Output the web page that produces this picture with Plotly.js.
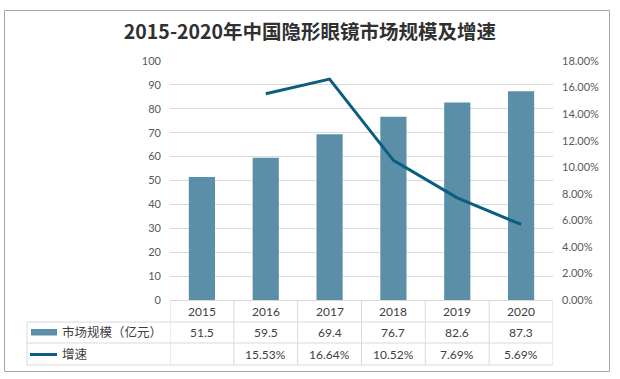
<!DOCTYPE html>
<html>
<head>
<meta charset="utf-8">
<script src="https://cdn.plot.ly/plotly-3.0.1.min.js"></script>
<style>html,body{margin:0;padding:0;background:#fff;}#chart{width:620px;height:379px;}</style>
</head>
<body>
<div id="chart"></div>
<script>
const years = ['2015', '2016', '2017', '2018', '2019', '2020'];
const marketSize = [51.5, 59.5, 69.4, 76.7, 82.6, 87.3];
const growth = [null, 0.1553, 0.1664, 0.1052, 0.0769, 0.0569];
const seriesNames = ['市场规模（亿元）', '增速'];
const titleText = '2015-2020年中国隐形眼镜市场规模及增速';

const barColor = '#5b8fa7';
const lineColor = '#0b5e7f';
const gridColor = '#d9d9d9';
const textColor = '#404040';
const fontFam = 'Lato, "Noto Sans CJK SC", sans-serif';

const L = 170, R = 553, T = 61, B = 300;
const W = R - L, H = B - T;
const px = v => (v - L) / W;
const py = v => (B - v) / H;

const shapes = [];
const annotations = [];

// outer frame
shapes.push({type: 'rect', xref: 'paper', yref: 'paper', x0: px(4.5), x1: px(609.5), y0: py(10.5), y1: py(371.5),
  line: {color: '#a6a6a6', width: 1}, fillcolor: 'rgba(0,0,0,0)', layer: 'below'});

// table vertical lines at category boundaries
for (let i = 0; i <= years.length; i++) {
  shapes.push({type: 'line', xref: 'x', yref: 'paper', x0: i - 0.5, x1: i - 0.5, y0: py(300.5), y1: py(365),
    line: {color: gridColor, width: 1}});
}
// left border of label column
shapes.push({type: 'line', xref: 'paper', yref: 'paper', x0: px(27), x1: px(27), y0: py(322), y1: py(365),
  line: {color: gridColor, width: 1}});
// horizontal row lines
[322, 343, 365].forEach(yy => {
  shapes.push({type: 'line', xref: 'paper', yref: 'paper', x0: px(27), x1: 1, y0: py(yy), y1: py(yy),
    line: {color: gridColor, width: 1}});
});
// legend swatches
shapes.push({type: 'rect', xref: 'paper', yref: 'paper', x0: px(31), x1: px(57), y0: py(329), y1: py(335.5),
  line: {width: 0}, fillcolor: barColor});
shapes.push({type: 'line', xref: 'paper', yref: 'paper', x0: px(30), x1: px(57), y0: py(354.5), y1: py(354.5),
  line: {color: lineColor, width: 3}});

// legend labels
annotations.push({xref: 'paper', yref: 'paper', x: px(60), y: py(332.5), text: seriesNames[0], showarrow: false,
  xanchor: 'left', yanchor: 'middle', font: {size: 12.5, color: textColor, family: fontFam}});
annotations.push({xref: 'paper', yref: 'paper', x: px(60), y: py(354), text: seriesNames[1], showarrow: false,
  xanchor: 'left', yanchor: 'middle', font: {size: 12.5, color: textColor, family: fontFam}});

// table cells
years.forEach((yr, i) => {
  annotations.push({xref: 'x', yref: 'paper', x: i, y: py(311.5), text: yr, showarrow: false,
    xanchor: 'center', yanchor: 'middle', font: {size: 12, color: textColor, family: fontFam}});
  annotations.push({xref: 'x', yref: 'paper', x: i, y: py(332.5), text: marketSize[i].toFixed(1), showarrow: false,
    xanchor: 'center', yanchor: 'middle', font: {size: 12, color: textColor, family: fontFam}});
  if (growth[i] !== null) {
    annotations.push({xref: 'x', yref: 'paper', x: i, y: py(354), text: (growth[i] * 100).toFixed(2) + '%', showarrow: false,
      xanchor: 'center', yanchor: 'middle', font: {size: 12, color: textColor, family: fontFam}});
  }
});

const idx = years.map((_, i) => i);

const data = [
  {type: 'bar', x: idx, y: marketSize, name: seriesNames[0], marker: {color: barColor}, width: 0.41,
   hoverinfo: 'skip'},
  {type: 'scatter', mode: 'lines', x: idx, y: growth, name: seriesNames[1], yaxis: 'y2',
   line: {color: lineColor, width: 3}, connectgaps: false, hoverinfo: 'skip'}
];

const layout = {
  width: 620, height: 379,
  margin: {l: L, r: 620 - R, t: T, b: 379 - B, pad: 0},
  paper_bgcolor: '#ffffff', plot_bgcolor: '#ffffff',
  showlegend: false,
  title: {text: '<b>' + titleText + '</b>', x: 310 / 620, xref: 'container', xanchor: 'center',
    y: 1 - 32 / 379, yref: 'container', yanchor: 'middle',
    font: {size: 19.5, color: '#303030', family: '"Noto Sans CJK SC", sans-serif'}},
  xaxis: {range: [-0.5, 5.5], showticklabels: false, showgrid: false, zeroline: false, showline: true,
    linecolor: gridColor, linewidth: 1, ticks: '', fixedrange: true},
  yaxis: {range: [0, 100], dtick: 10, tick0: 0, showgrid: true, gridcolor: gridColor, gridwidth: 1, zeroline: false,
    showline: false, ticks: '', ticklabelstandoff: 8,
    tickfont: {size: 11, color: '#595959', family: fontFam}},
  yaxis2: {range: [0, 0.18], dtick: 0.02, tick0: 0, overlaying: 'y', side: 'right', tickformat: '.2%',
    showgrid: false, zeroline: false, showline: false, ticks: '', ticklabelstandoff: 8,
    tickfont: {size: 11, color: '#595959', family: fontFam}},
  shapes: shapes,
  annotations: annotations
};

Plotly.newPlot('chart', data, layout, {staticPlot: true, displayModeBar: false});
</script>
</body>
</html>
